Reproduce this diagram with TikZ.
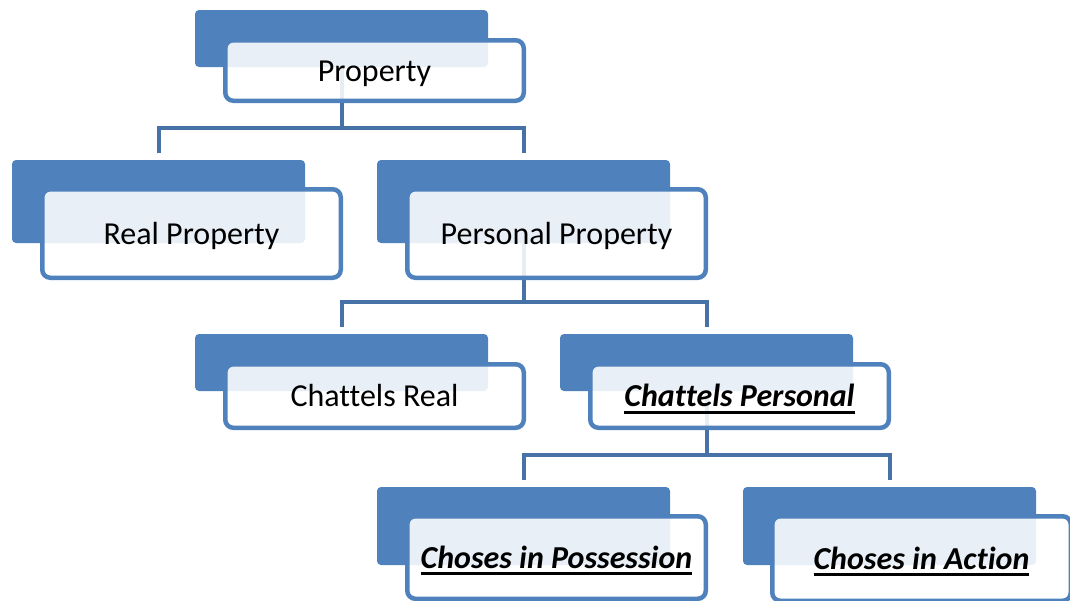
\documentclass[tikz,border=0pt]{standalone}
\usepackage{fontspec}
\setmainfont[Ligatures=NoCommon]{Carlito}
\usepackage{tikz}
\usetikzlibrary{positioning,
                calc}
\definecolor{boxblue}{HTML}{4F81BD}
\definecolor{linkblue}{HTML}{4672A8}
\tikzset{backbox/.style = {rectangle,
                     fill=boxblue,
                     rounded corners=4pt,
                     minimum width=293pt,
                     minimum height=#1,
                     inner sep=0pt,
                     outer sep=0pt
                    },
         frontbox/.style = {
                     rectangle,
                     draw=boxblue,
                     line width=4.5pt,
                     fill=white,
                     fill opacity=0.88,
                     text opacity=1,
                     rounded corners=8pt,
                     minimum width=298.5pt,
                     minimum height=#1,
                     inner sep=0pt,
                     anchor=north west,
                     font=\fontsize{32}{38}\selectfont,
                     text height=25pt,
                     text depth=4pt
         },
         linkline/.style = {
            draw=linkblue,line width=4pt,shorten >=7pt
         }
        }
\newcommand{\ulword}[1]{\setbox0=\hbox{#1}\rlap{\rule[-7pt]{\wd0}{3pt}}\box0}
\newcommand{\keyterm}[1]{\ulword{\textbf{\textit{#1}}}}

\begin{document}
\begin{tikzpicture}[x=1pt,y=-1pt]
        \useasboundingbox (0,0) rectangle (1070,600);

        \node[backbox=57pt] (propb) at (341.5,38.5) {};
        \node[backbox=83pt] (realb) at (158.5,201.5) {};
        \node[backbox=83pt] (persb) at (523.5,201.5) {};
        \node[backbox=57pt] (chrealb) at (341.5,362.5) {};
        \node[backbox=57pt] (chpersb) at (706.5,362.5) {};
        \node[backbox=78pt] (possb) at (523.5,526) {};
        \node[backbox=78pt] (actb) at (889.5,526) {};

        \path[linkline] (propb.south) -- ++(0,61) -| (realb.north);
        \path[linkline] (propb.south) -- ++(0,61) -| (persb.north);
        \path[linkline] (persb.south) -- ++(0,58.5) -| (chrealb.north);
        \path[linkline] (persb.south) -- ++(0,58.5) -| (chpersb.north);
        \path[linkline] (chpersb.south) -- ++(0,64) -| (possb.north);
        \path[linkline] (chpersb.south) -- ++(0,64) -| (actb.north);

        \node[frontbox=60.5pt] (prop) at ([shift={(28,28)}]propb.north west) {Property};
        \node[frontbox=88.5pt] (real) at ([shift={(28,27)}]realb.north west) {Real Property};
        \node[frontbox=88.5pt] (pers) at ([shift={(28,27)}]persb.north west) {Personal Property};
        \node[frontbox=63.5pt] (chreal) at ([shift={(28,28)}]chrealb.north west) {Chattels Real};
        \node[frontbox=63.5pt] (chpers) at ([shift={(28,28)}]chpersb.north west) {\keyterm{Chattels Personal}};
        \node[frontbox=82.5pt] (poss) at ([shift={(28,27)}]possb.north west) {\keyterm{Choses in Possession}};
        \node[frontbox=84.5pt] (act) at ([shift={(27,27)}]actb.north west) {\keyterm{Choses in Action}};
\end{tikzpicture}
\end{document}
